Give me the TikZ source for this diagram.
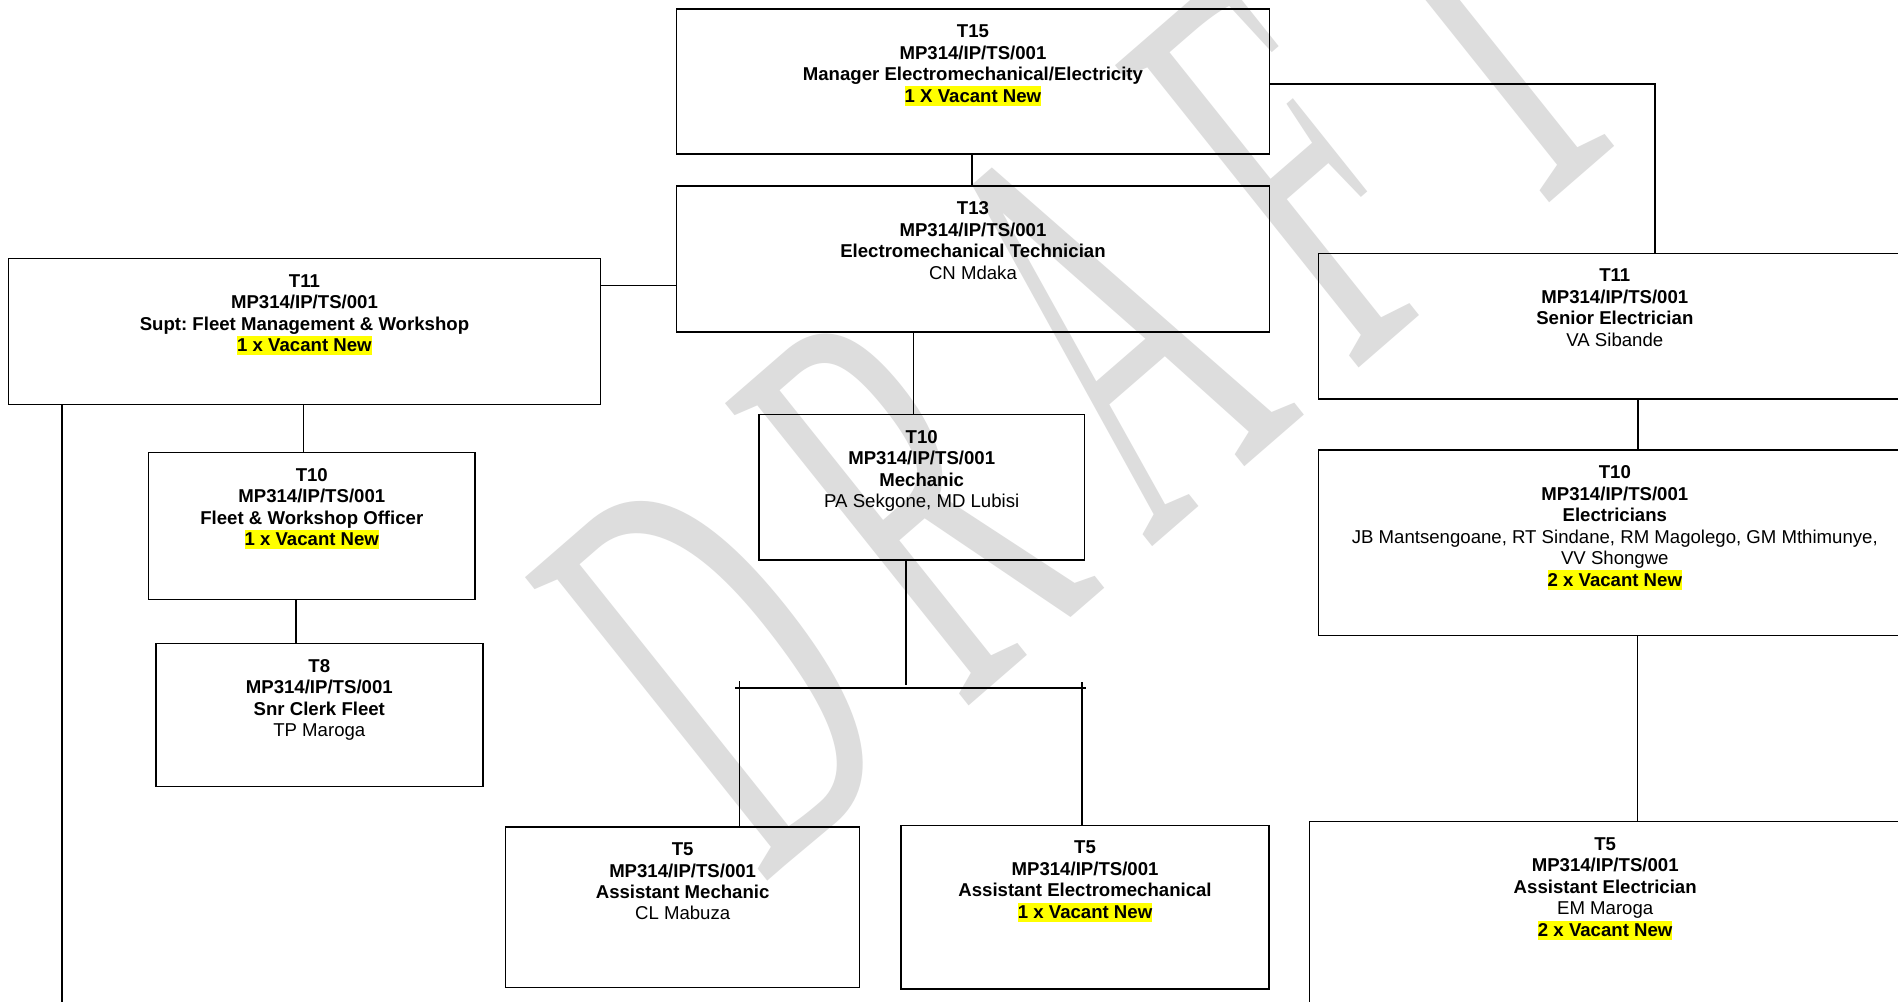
\documentclass[tikz,border=0pt]{standalone}
\usepackage{fontspec}
\setmainfont{Liberation Sans}
\newfontfamily\wmfont{Liberation Serif}
\usetikzlibrary{calc}

\definecolor{hiyellow}{RGB}{255,255,0}
\definecolor{wmgray}{RGB}{221,221,221}

% highlighted vacancy line
\newcommand\vac[1]{{\setlength\fboxsep{0pt}\colorbox{hiyellow}{\rule[-0.2em]{0pt}{1.04em}\textbf{#1}}}}

% post box: name, x1, y1, x2, y2 (pixel units), contents set from the top
\newcommand\postbox[6]{%
  \pgfmathsetmacro\pbw{(#4-#2)*0.75}%
  \pgfmathsetmacro\pbh{(#5-#3)*0.75}%
  \node[orgbox] (#1) at ({(#2+#4)/2},{(#3+#5)/2})
    {\parbox[c][\pbh pt][t]{\pbw pt}{\centering\frenchspacing\rule{0pt}{21.5pt}#6}};%
}

% letter spacing of the watermark word
\newcommand\wmgap{\kern93.6pt}

\begin{document}
\begin{tikzpicture}[x=0.75pt,y=-0.75pt,
  orgbox/.style={draw=black, line width=1.1pt, inner sep=0pt, outer sep=0pt,
    font=\fontsize{13.95pt}{16.1pt}\selectfont},
  link/.style={draw=black, line width=1.1pt},
  watermark/.style={text=wmgray, inner sep=0pt,
    font=\wmfont\fontsize{444.75pt}{444.75pt}\selectfont}]

\useasboundingbox (0,0) rectangle (1898,1002);
\fill[white] (0,0) rectangle (1898,1002);
\clip (0,0) rectangle (1898,1002);

% watermark: narrow slanted serif lettering running up to the right
\begin{scope}[shift={(761,886.6)}, cm={0.3630,0.3148,-0.6239,0.7815,(0,0)}]
  \node[watermark, transform shape, anchor=base west] (wm) at (0,0)
    {D\wmgap R\wmgap A\wmgap F\wmgap T};
\end{scope}

% posts
\postbox{t15}{676.6}{9}{1269.3}{154}{\textbf{T15}\\\textbf{MP314/IP/TS/001}\\\textbf{Manager Electromechanical/Electricity}\\\vac{1 X Vacant New}}
\postbox{t13}{676.6}{186}{1269.3}{332}{\textbf{T13}\\\textbf{MP314/IP/TS/001}\\\textbf{Electromechanical Technician}\\CN Mdaka}
\postbox{t11l}{8.3}{258.6}{600.6}{404.3}{\textbf{T11}\\\textbf{MP314/IP/TS/001}\\\textbf{Supt: Fleet Management \& Workshop}\\\vac{1 x Vacant New}}
\postbox{t10f}{148.7}{452.5}{474.9}{599.3}{\textbf{T10}\\\textbf{MP314/IP/TS/001}\\\textbf{Fleet \& Workshop Officer}\\\vac{1 x Vacant New}}
\postbox{t8}{155.8}{643.6}{482.8}{786.4}{\textbf{T8}\\\textbf{MP314/IP/TS/001}\\\textbf{Snr Clerk Fleet}\\TP Maroga}
\postbox{t10m}{758.8}{414.6}{1084.6}{560}{\textbf{T10}\\\textbf{MP314/IP/TS/001}\\\textbf{Mechanic}\\PA Sekgone, MD Lubisi}
\postbox{t5m}{505.7}{826.9}{859.6}{987.3}{\textbf{T5}\\\textbf{MP314/IP/TS/001}\\\textbf{Assistant Mechanic}\\CL Mabuza}
\postbox{t5ae}{901.1}{825.3}{1269}{989.2}{\textbf{T5}\\\textbf{MP314/IP/TS/001}\\\textbf{Assistant Electromechanical}\\\vac{1 x Vacant New}}
\postbox{t11r}{1318.3}{253.3}{1911.3}{399}{\textbf{T11}\\\textbf{MP314/IP/TS/001}\\\textbf{Senior Electrician}\\VA Sibande}
\postbox{t10e}{1318.3}{450}{1911.3}{635.7}{\textbf{T10}\\\textbf{MP314/IP/TS/001}\\\textbf{Electricians}\\JB Mantsengoane, RT Sindane, RM Magolego, GM Mthimunye,\\VV Shongwe\\\vac{2 x Vacant New}}
\postbox{t5e}{1309.6}{821.7}{1900.8}{1010}{\textbf{T5}\\\textbf{MP314/IP/TS/001}\\\textbf{Assistant Electrician}\\EM Maroga\\\vac{2 x Vacant New}}

% connector positions
\coordinate (xa) at (972,0);
\coordinate (ya) at (0,84);
\coordinate (xb) at (1655,0);
\coordinate (yc) at (0,285.7);
\coordinate (xd) at (913.6,0);
\coordinate (xe) at (303.3,0);
\coordinate (xf) at (295.8,0);
\coordinate (xg) at (62,0);
\coordinate (leftend) at (62,1010);
\coordinate (xh) at (906,0);
\coordinate (barmid) at (906,685);
\coordinate (barL) at (735,688);
\coordinate (barR) at (1086,688);
\coordinate (tickL) at (739.4,681);
\coordinate (tickR) at (1082,682);
\coordinate (xi) at (1638,0);
\coordinate (xj) at (1637.5,0);

% connectors
\draw[link] (t15.south -| xa) -- (t13.north -| xa);
\draw[link] (t15.east |- ya) -| (t11r.north -| xb);
\draw[link] (t13.west |- yc) -- (t11l.east |- yc);
\draw[link] (t13.south -| xd) -- (t10m.north -| xd);
\draw[link] (t11l.south -| xe) -- (t10f.north -| xe);
\draw[link] (t10f.south -| xf) -- (t8.north -| xf);
\draw[link] (t11l.south -| xg) -- (leftend);
\draw[link] (t10m.south -| xh) -- (barmid);
\draw[link] (barL) -- (barR);
\draw[link] (tickL) -- (t5m.north -| tickL);
\draw[link] (tickR) -- (t5ae.north -| tickR);
\draw[link] (t11r.south -| xi) -- (t10e.north -| xi);
\draw[link] (t10e.south -| xj) -- (t5e.north -| xj);

\end{tikzpicture}
\end{document}
